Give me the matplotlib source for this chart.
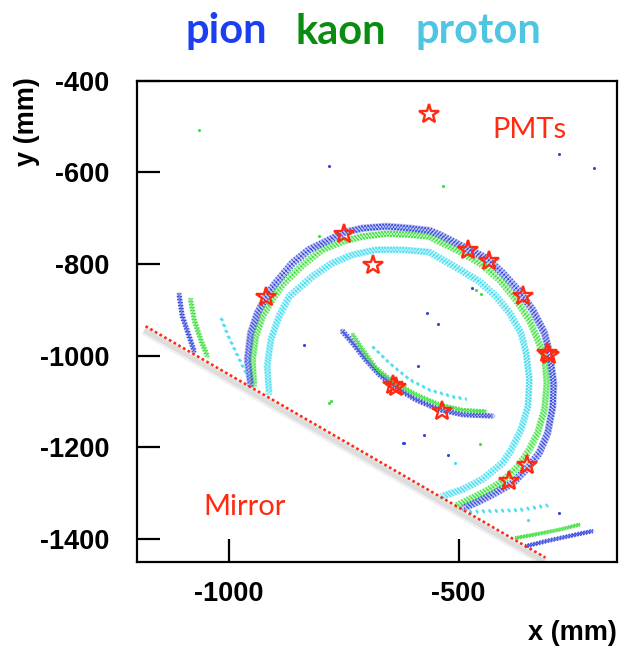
import matplotlib
matplotlib.use("Agg")
import matplotlib.pyplot as plt
from matplotlib import patheffects as pe
from matplotlib.transforms import offset_copy

# ---- hit patterns (mm) -------------------------------------------------
# main Cherenkov rings
pion_ring_x = [-953, -960, -953, -938, -917, -898, -862, -826, -789, -749, -709, -658, -607, -564,
               -542, -491, -440, -404, -368, -339, -313, -302, -293, -295, -306, -324, -346, -382,
               -426, -462, -488]
pion_ring_y = [-1063, -1009, -951, -907, -867, -841, -798, -769, -751, -731, -722, -718, -722, -727,
               -736, -762, -787, -820, -860, -900, -951, -994, -1060, -1111, -1169, -1212, -1241,
               -1278, -1303, -1321, -1332]
kaon_ring_x = [-946, -949, -942, -927, -909, -884, -840, -797, -753, -709, -658, -607, -564, -542,
               -491, -448, -411, -375, -346, -328, -313, -308, -313, -328, -348, -370, -404, -440,
               -477, -503]
kaon_ring_y = [-1063, -1009, -958, -914, -882, -845, -802, -769, -751, -740, -734, -736, -740, -751,
               -776, -802, -834, -878, -922, -965, -1002, -1060, -1118, -1169, -1209, -1242, -1274,
               -1296, -1314, -1327]
proton_ring_x = [-913, -917, -909, -891, -869, -818, -775, -731, -680, -622, -564, -498, -455, -418,
                 -389, -364, -353, -346, -349, -364, -385, -404, -448, -491, -535]
proton_ring_y = [-1081, -1023, -965, -914, -871, -827, -798, -780, -769, -769, -774, -812, -838,
                 -871, -907, -951, -994, -1052, -1111, -1161, -1205, -1234, -1270, -1292, -1307]

# reflected inner arcs
pion_inner_x = [-753, -731, -702, -673, -636, -593, -542, -491, -426]
pion_inner_y = [-947, -972, -1009, -1041, -1070, -1096, -1118, -1129, -1132]
kaon_inner_x = [-731, -709, -680, -644, -593, -542, -491, -440]
kaon_inner_y = [-954, -987, -1027, -1056, -1085, -1107, -1119, -1122]
proton_inner_x = [-688, -651, -607, -564, -513, -484]
proton_inner_y = [-980, -1016, -1052, -1074, -1089, -1094]

# arcs at the mirror edge (left)
pion_left_x = [-1109, -1102, -1087, -1076]
pion_left_y = [-867, -914, -958, -991]
kaon_left_x = [-1084, -1076, -1062, -1047]
kaon_left_y = [-878, -922, -965, -1002]
proton_left_x = [-1018, -1004, -985, -964]
proton_left_y = [-918, -954, -994, -1038]

# arcs at the mirror edge (bottom right)
pion_low_x = [-353, -309, -259, -208]
pion_low_y = [-1416, -1405, -1394, -1383]
kaon_low_x = [-375, -331, -280, -237]
kaon_low_y = [-1398, -1390, -1380, -1369]
proton_low_x = [-477, -426, -368, -302]
proton_low_y = [-1340, -1338, -1336, -1325]

# isolated hits
pion_hits_x = [-782, -282, -206, -471, -568, -544, -836, -589, -622, -618, -575, -524, -282]
pion_hits_y = [-586, -559, -591, -853, -908, -931, -976, -1022, -1190, -1190, -1174, -1217, -1343]
kaon_hits_x = [-1065, -533, -462, -451, -783, -779, -453, -804]
kaon_hits_y = [-507, -629, -856, -865, -1103, -1100, -1194, -740]
proton_hits_x = [-509, -349]
proton_hits_y = [-1234, -1358]

# PMT positions
pmt_x = [-564, -749, -686, -480, -433, -360, -920, -308, -303, -642, -637, -537, -352, -391]
pmt_y = [-472, -734, -803, -769, -794, -871, -873, -994, -998, -1065, -1069, -1120, -1238, -1274]

# mirror edge
mirror_x = [-1182, -311]
mirror_y = [-936, -1441]

x_ticks = [-1000, -500]
y_ticks = [-1400, -1200, -1000, -800, -600, -400]

# ---- colours -----------------------------------------------------------
C_PION = "#3345dd"
C_KAON = "#3ee03e"
C_PROTON = "#3fdcf0"
T_PION = "#1b3ff0"
T_KAON = "#0a8c12"
T_PROTON = "#4ec6e2"
RED = "#ff2a10"

fig = plt.figure(figsize=(6.19, 6.49), dpi=100)
ax = fig.add_axes([0.2218, 0.1345, 0.775, 0.7411])
ax.set_xlim(-1200, -155)
ax.set_ylim(-1450, -400)


def band(xs, ys, color, width=5.5, dots=(0, (0.55, 1.0)), spread=1.4, base_alpha=0.28):
    ax.plot(xs, ys, color=color, lw=width, alpha=base_alpha,
            solid_capstyle="round", solid_joinstyle="round", zorder=2)
    ax.plot(xs, ys, color=color, lw=1.4, linestyle=dots, alpha=0.95, zorder=3,
            path_effects=[pe.Stroke(offset=(spread, spread)),
                          pe.Stroke(offset=(-spread, -spread)),
                          pe.Stroke(offset=(spread, -spread)),
                          pe.Stroke(offset=(-spread, spread)),
                          pe.Normal()])


def sparse(xs, ys, color):
    ax.plot(xs, ys, color=color, lw=2.0, linestyle=(0, (0.7, 1.6)), alpha=0.9, zorder=3,
            path_effects=[pe.Stroke(offset=(0.8, -0.8)), pe.Normal()])


# mirror edge with soft shadow
shadow_tr = offset_copy(ax.transData, fig=fig, x=-1.0, y=-3.0, units="points")
ax.plot(mirror_x, mirror_y, color="#000000", lw=7, alpha=0.06, transform=shadow_tr, zorder=1,
        solid_capstyle="butt")
ax.plot(mirror_x, mirror_y, color="#000000", lw=3.5, alpha=0.08, transform=shadow_tr, zorder=1,
        solid_capstyle="butt")
ax.plot(mirror_x, mirror_y, color=RED, lw=1.9, linestyle=(0, (1, 1.05)), zorder=4)

# rings
band(proton_ring_x, proton_ring_y, C_PROTON, width=5.0)
band(kaon_ring_x, kaon_ring_y, C_KAON, width=5.0)
band(pion_ring_x, pion_ring_y, C_PION, width=5.5)

band(pion_inner_x, pion_inner_y, C_PION, width=4.0, spread=1.0)
band(kaon_inner_x, kaon_inner_y, C_KAON, width=3.0, spread=0.8, base_alpha=0.2)
sparse(proton_inner_x, proton_inner_y, C_PROTON)

band(pion_left_x, pion_left_y, C_PION, width=3.5, spread=1.0)
band(kaon_left_x, kaon_left_y, C_KAON, width=3.5, spread=1.0)
sparse(proton_left_x, proton_left_y, C_PROTON)

band(pion_low_x, pion_low_y, C_PION, width=3.0, spread=0.8, base_alpha=0.2)
band(kaon_low_x, kaon_low_y, C_KAON, width=2.5, spread=0.7, base_alpha=0.2)
sparse(proton_low_x, proton_low_y, C_PROTON)

ax.scatter(pion_hits_x, pion_hits_y, s=5, color=C_PION, lw=0, zorder=3)
ax.scatter(kaon_hits_x, kaon_hits_y, s=5, color=C_KAON, lw=0, zorder=3)
ax.scatter(proton_hits_x, proton_hits_y, s=5, color=C_PROTON, lw=0, zorder=3)

# PMTs
ax.plot(pmt_x, pmt_y, linestyle="none", marker="*", ms=15, mfc="none", mec=RED, mew=1.7,
        zorder=5)

ax.text(-1057, -1347, "Mirror", color=RED, fontsize=21, family="Lato", ha="left",
        va="baseline", zorder=6)
ax.text(-426, -524, "PMTs", color=RED, fontsize=21, family="Lato", ha="left",
        va="baseline", zorder=6)

# axes styling
for sp in ax.spines.values():
    sp.set_linewidth(1.6)
ax.set_xticks(x_ticks)
ax.set_yticks(y_ticks)
ax.set_xticklabels([str(v) for v in x_ticks])
ax.set_yticklabels([str(v) for v in y_ticks])
ax.tick_params(direction="in", length=16.5, width=1.6, top=False, right=False)
ax.tick_params(axis="y", pad=20)
ax.tick_params(axis="x", pad=14)
for lab in ax.get_xticklabels() + ax.get_yticklabels():
    lab.set_fontfamily("Liberation Sans")
    lab.set_fontweight("bold")
    lab.set_fontsize(19.5)

fig.text(617 / 619, 1 - 633 / 649, "x (mm)", ha="right", va="center", fontsize=19.5,
         fontweight="bold", family="Liberation Sans")
fig.text(27 / 619, 1 - 122 / 649, "y (mm)", ha="center", va="center", rotation=90,
         fontsize=19.5, fontweight="bold", family="Liberation Sans")

# particle legend as coloured title words
ty = 1 - 43.5 / 649
fig.text(186 / 619, ty, "pion", color=T_PION, fontsize=30, fontweight="bold", family="Lato",
         ha="left", va="baseline")
fig.text(296 / 619, ty, "kaon", color=T_KAON, fontsize=30, fontweight="bold", family="Lato",
         ha="left", va="baseline")
fig.text(415 / 619, ty, "proton", color=T_PROTON, fontsize=30, fontweight="bold", family="Lato",
         ha="left", va="baseline")

fig.savefig("out.png", dpi=100)
